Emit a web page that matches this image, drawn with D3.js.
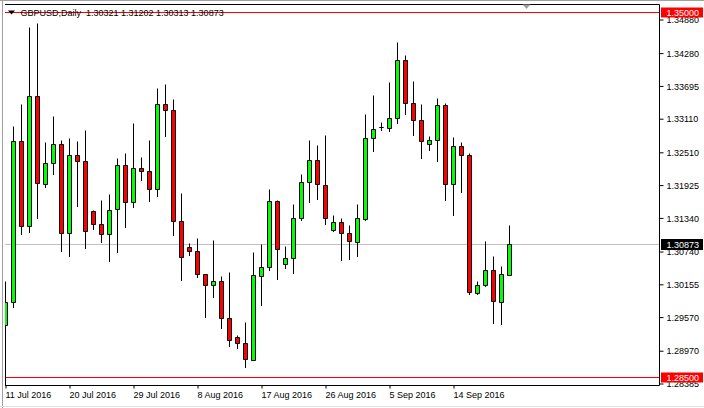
<!DOCTYPE html>
<html>
<head>
<meta charset="utf-8">
<script src="https://cdn.jsdelivr.net/npm/d3@7"></script>
<style>
body { margin: 0; background: #fff; }
svg text { font-family: "Liberation Sans", Arial, sans-serif; font-size: 9px; fill: #000; }
</style>
</head>
<body>
<svg id="chart" width="704" height="408"></svg>
<script>
// daily GBPUSD bars, 11 Jul 2016 .. 22 Sep 2016 (sunday bars included)
var opens = [1.29420, 1.29834, 1.32703, 1.31187, 1.33506, 1.31936, 1.32311, 1.32655, 1.31062, 1.32459,
    1.32347, 1.31460, 1.31222, 1.31044, 1.31490, 1.32275, 1.31615, 1.32222, 1.32168, 1.31847,
    1.33364, 1.33257, 1.31276, 1.30812, 1.30741, 1.30330, 1.30127, 1.30211, 1.29545, 1.29211,
    1.29099, 1.28801, 1.30294, 1.30455, 1.31638, 1.30502, 1.30616, 1.31322, 1.31972, 1.32370,
    1.31924, 1.31108, 1.31258, 1.31062, 1.30894, 1.31312, 1.32757, 1.32950, 1.32935, 1.33114,
    1.34149, 1.33382, 1.33078, 1.32650, 1.32727, 1.33346, 1.31936, 1.32620, 1.32459, 1.29991,
    1.30134, 1.30394, 1.29831, 1.30321];
var highs = [1.30198, 1.32964, 1.33369, 1.34738, 1.34809, 1.32691, 1.33155, 1.32727, 1.32757, 1.32696,
    1.32905, 1.31470, 1.31656, 1.31763, 1.32400, 1.32489, 1.33025, 1.32418, 1.32727, 1.33649,
    1.33721, 1.33453, 1.31776, 1.30883, 1.30973, 1.30335, 1.30942, 1.30300, 1.30359, 1.29242,
    1.29467, 1.30716, 1.30866, 1.31847, 1.31656, 1.30835, 1.31585, 1.32120, 1.32727, 1.32637,
    1.32803, 1.31388, 1.31335, 1.31210, 1.31585, 1.33185, 1.33530, 1.33043, 1.33756, 1.34463,
    1.34243, 1.33767, 1.33369, 1.32786, 1.33476, 1.33382, 1.32780, 1.32678, 1.32489, 1.30205,
    1.30924, 1.30657, 1.30478, 1.31202];
var lows = [1.28200, 1.29747, 1.31044, 1.31080, 1.31329, 1.31883, 1.32111, 1.30741, 1.30644, 1.31536,
    1.30794, 1.31133, 1.30901, 1.30562, 1.30723, 1.31169, 1.31526, 1.32000, 1.31633, 1.31722,
    1.32786, 1.31026, 1.30216, 1.30669, 1.30277, 1.29556, 1.29920, 1.29367, 1.29038, 1.29003,
    1.28663, 1.28788, 1.29770, 1.30407, 1.30234, 1.30443, 1.30341, 1.31287, 1.31615, 1.31674,
    1.31222, 1.31100, 1.30585, 1.30590, 1.30644, 1.31287, 1.32518, 1.32893, 1.32875, 1.33018,
    1.33178, 1.32816, 1.32400, 1.32536, 1.32339, 1.31656, 1.31376, 1.31786, 1.29966, 1.29979,
    1.30116, 1.29461, 1.29443, 1.30313];
var closes = [1.29834, 1.32703, 1.31187, 1.33506, 1.31954, 1.32311, 1.32655, 1.31062, 1.32459, 1.32347,
    1.31098, 1.31222, 1.31044, 1.31478, 1.32275, 1.31615, 1.32222, 1.32168, 1.31847, 1.33364,
    1.33257, 1.31276, 1.30626, 1.30741, 1.30336, 1.30127, 1.30211, 1.29545, 1.29153, 1.29092,
    1.28813, 1.30312, 1.30455, 1.31638, 1.30776, 1.30621, 1.31329, 1.31972, 1.32370, 1.31936,
    1.31322, 1.31258, 1.31062, 1.30912, 1.31329, 1.32757, 1.32918, 1.32950, 1.33119, 1.34149,
    1.33382, 1.33078, 1.32696, 1.32727, 1.33346, 1.31936, 1.32620, 1.32454, 1.30009, 1.30134,
    1.30394, 1.29848, 1.30336, 1.30873];

var priceTicks = [1.34880, 1.34280, 1.33695, 1.33110, 1.32510, 1.31925, 1.31340, 1.30740, 1.30155, 1.29570, 1.28970, 1.28385];
var dateTicks = [0, 8, 16, 24, 32, 40, 48, 56];
var dateLabels = ["11 Jul 2016", "20 Jul 2016", "29 Jul 2016", "8 Aug 2016", "17 Aug 2016", "26 Aug 2016", "5 Sep 2016", "14 Sep 2016"];
var levels = [1.35000, 1.28500];
var lastPrice = 1.30873;
var title = "GBPUSD,Daily  1.30321 1.31202 1.30313 1.30873";

var svg = d3.select("#chart");
var plotL = 5, plotT = 4.5, plotR = 659.5, plotB = 385.5;

var x = d3.scaleLinear().domain([0, 81.75]).range([5.5, 659.5]);
var y = d3.scaleLinear().domain([1.28385, 1.34880]).range([383.5, 19.5]);
function sy(v) { return Math.floor(y(v)) + 0.5; }
function sx(i) { return Math.floor(x(i)) + 0.5; }

// window border
svg.append("line").attr("x1", 0).attr("x2", 704).attr("y1", 0.5).attr("y2", 0.5).attr("stroke", "#a0a0a0");
svg.append("line").attr("x1", 2.5).attr("x2", 2.5).attr("y1", 0).attr("y2", 408).attr("stroke", "#a0a0a0");
svg.append("line").attr("x1", 0).attr("x2", 704).attr("y1", 406.5).attr("y2", 406.5).attr("stroke", "#e0e0e0");

svg.append("clipPath").attr("id", "plot")
    .append("rect").attr("x", plotL).attr("y", plotT).attr("width", plotR - plotL).attr("height", plotB - plotT);

var plot = svg.append("g").attr("clip-path", "url(#plot)");

// last price line
plot.append("line")
    .attr("x1", plotL).attr("x2", plotR)
    .attr("y1", sy(lastPrice)).attr("y2", sy(lastPrice))
    .attr("stroke", "#c0c0c0");

// support / resistance lines
plot.selectAll(".level").data(levels).enter().append("line")
    .attr("class", "level")
    .attr("x1", plotL).attr("x2", plotR)
    .attr("y1", function (d) { return sy(d); })
    .attr("y2", function (d) { return sy(d); })
    .attr("stroke", "#ff0000");

var bars = plot.selectAll(".bar").data(opens).enter().append("g").attr("class", "bar");

bars.append("line")
    .attr("x1", function (d, i) { return sx(i); })
    .attr("x2", function (d, i) { return sx(i); })
    .attr("y1", function (d, i) { return sy(highs[i]); })
    .attr("y2", function (d, i) { return sy(lows[i]) + 0.5; })
    .attr("stroke", "#000");

bars.append("path")
    .attr("d", function (d, i) {
        var y0 = sy(Math.max(opens[i], closes[i]));
        var y1 = sy(Math.min(opens[i], closes[i]));
        var cx = sx(i);
        return "M" + (cx - 2) + "," + y0 + "H" + (cx + 2) + "V" + y1 + "H" + (cx - 2) + "Z";
    })
    .attr("fill", function (d, i) { return closes[i] >= opens[i] ? "#00ff00" : "#ff0000"; })
    .attr("stroke", "#000");

// frame
svg.append("path")
    .attr("d", "M" + plotL + "," + plotT + "H" + plotR + "V" + plotB + "H" + plotL)
    .attr("fill", "none").attr("stroke", "#000");

// price axis
var yAxis = svg.append("g")
    .attr("transform", "translate(" + plotR + ",0)")
    .call(d3.axisRight(y).tickValues(priceTicks).tickSize(4).tickSizeOuter(0).tickFormat(d3.format(".5f")));
yAxis.select(".domain").remove();
yAxis.selectAll("text").attr("x", 7).attr("dy", "0.36em");

// time axis
var xAxis = svg.append("g")
    .attr("transform", "translate(0," + plotB + ")")
    .call(d3.axisBottom(x).tickValues(dateTicks).tickSize(3).tickSizeOuter(0)
        .tickFormat(function (d, i) { return dateLabels[i]; }));
xAxis.select(".domain").remove();
xAxis.selectAll("text").attr("text-anchor", "start").attr("x", -0.5);
svg.selectAll(".tick text").style("font-family", "Liberation Sans, Arial, sans-serif").style("font-size", "9px");

// price labels on the axis
var marks = levels.map(function (d) { return { v: d, c: "#ff0000", h: 10 }; });
marks.push({ v: lastPrice, c: "#000", h: 11 });
var tags = svg.selectAll(".tag").data(marks).enter().append("g").attr("class", "tag");
tags.append("rect")
    .attr("x", 661).attr("width", 42)
    .attr("y", function (d) { return sy(d.v) - d.h / 2; })
    .attr("height", function (d) { return d.h; })
    .attr("fill", function (d) { return d.c; });
tags.append("text")
    .attr("x", 666.5)
    .attr("y", function (d) { return sy(d.v); })
    .attr("dy", "0.36em")
    .style("fill", "#fff")
    .text(function (d) { return d3.format(".5f")(d.v); });

// chart shift marker
svg.append("path").attr("d", "M522.5,4.5H530.5L526.5,9Z").attr("fill", "#a0a0a0");

// title
svg.append("path").attr("d", "M8,10.5H15L11.5,14.5Z").attr("fill", "#000");
svg.append("text").attr("x", 20.5).attr("y", 16).attr("xml:space", "preserve").text(title);
</script>
</body>
</html>
